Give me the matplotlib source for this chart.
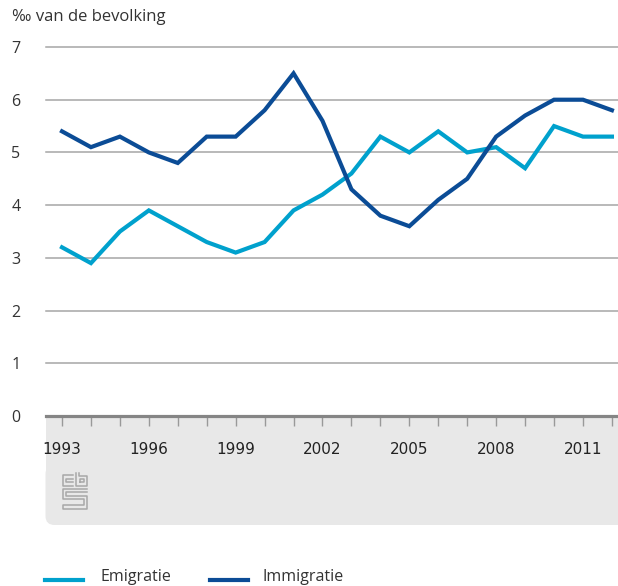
import matplotlib.pyplot as plt
from matplotlib.patches import FancyBboxPatch, Rectangle
from matplotlib.lines import Line2D

years = list(range(1993, 2013))
emigratie = [3.2, 2.9, 3.5, 3.9, 3.6, 3.3, 3.1, 3.3, 3.9, 4.2,
             4.6, 5.3, 5.0, 5.4, 5.0, 5.1, 4.7, 5.5, 5.3, 5.3]
immigratie = [5.4, 5.1, 5.3, 5.0, 4.8, 5.3, 5.3, 5.8, 6.5, 5.6,
              4.3, 3.8, 3.6, 4.1, 4.5, 5.3, 5.7, 6.0, 6.0, 5.8]
y_ticks = [0, 1, 2, 3, 4, 5, 6, 7]
label_years = [1993, 1996, 1999, 2002, 2005, 2008, 2011]

light = '#00a1cd'
dark = '#0b4c96'
text_font = ['Open Sans', 'DejaVu Sans']

W, H = 618, 586
fig = plt.figure(figsize=(W / 100, H / 100), dpi=100)

# grey panel under the x axis (pixel coords), only bottom-left corner rounded
fig.patches.append(Rectangle((45.5, H - 500), 700, 84, transform=None,
                             facecolor='#e8e8e8', edgecolor='none', zorder=-1))
fig.patches.append(FancyBboxPatch((45.5, H - 525), 700, 60,
                                  boxstyle="round,pad=0,rounding_size=9",
                                  transform=None, facecolor='#e8e8e8',
                                  edgecolor='none', zorder=-1))

ax = fig.add_axes([45.5 / W, (H - 416) / H, (W - 45.5) / W, (416 - 47) / H])
ax.patch.set_alpha(0)
ax.plot(years, emigratie, color=light, lw=3, solid_joinstyle='miter', zorder=3)
ax.plot(years, immigratie, color=dark, lw=3, solid_joinstyle='miter', zorder=3)

ax.set_xlim(1992.43, 2012.21)
ax.set_ylim(0, 7)
for v in y_ticks[1:]:
    ax.axhline(v, color='#a6a6a6', lw=1.1, zorder=1, clip_on=False)
ax.axhline(0, color='#858585', lw=2.3, zorder=2, clip_on=False)

for s in ax.spines.values():
    s.set_visible(False)

ax.set_xticks(years)
ax.set_xticklabels([str(y) if y in label_years else '' for y in years],
                   fontsize=11, color='#222222')
ax.tick_params(axis='x', length=7, width=1, color='#999999', pad=12)
ax.set_yticks(y_ticks)
ax.set_yticklabels([str(v) for v in y_ticks], fontsize=11.5, color='#333333',
                   family=text_font)
ax.tick_params(axis='y', length=0, pad=18)

fig.text(12 / W, 1 - 9 / H, '‰ van de bevolking', fontsize=12,
         color='#333333', family=text_font, va='top', ha='left')

# cbs logo, drawn as simple outlines
lg = fig.add_axes([62 / W, (H - 510) / H, 26 / W, 38 / H])
lg.set_xlim(0, 26)
lg.set_ylim(0, 38)
lg.axis('off')
logo_paths = [
    [(11, 35), (1, 35), (1, 24), (11, 24)],
    [(11, 31), (4, 31), (4, 28), (11, 28)],
    [(14, 37), (14, 24), (25, 24), (25, 34), (17, 34), (17, 37)],
    [(18, 28), (22, 28), (22, 31), (18, 31), (18, 28)],
    [(25, 21), (1, 21), (1, 11), (22, 11), (22, 5), (1, 5), (1, 1),
     (25, 1), (25, 14), (4, 14), (4, 18), (25, 18)],
]
for p in logo_paths:
    xs, ys = zip(*p)
    lg.plot(xs, ys, color='#a8a8a8', lw=1.1)

# legend at the bottom
ly = 6 / H
fig.add_artist(Line2D([45 / W, 83 / W], [ly, ly], color=light, lw=3))
fig.text(100 / W, 5 / H, 'Emigratie', fontsize=11.5, color='#333333',
         family=text_font, va='baseline')
fig.add_artist(Line2D([210 / W, 248 / W], [ly, ly], color=dark, lw=3))
fig.text(263 / W, 5 / H, 'Immigratie', fontsize=11.5, color='#333333',
         family=text_font, va='baseline')

fig.savefig('out.png', dpi=100)
